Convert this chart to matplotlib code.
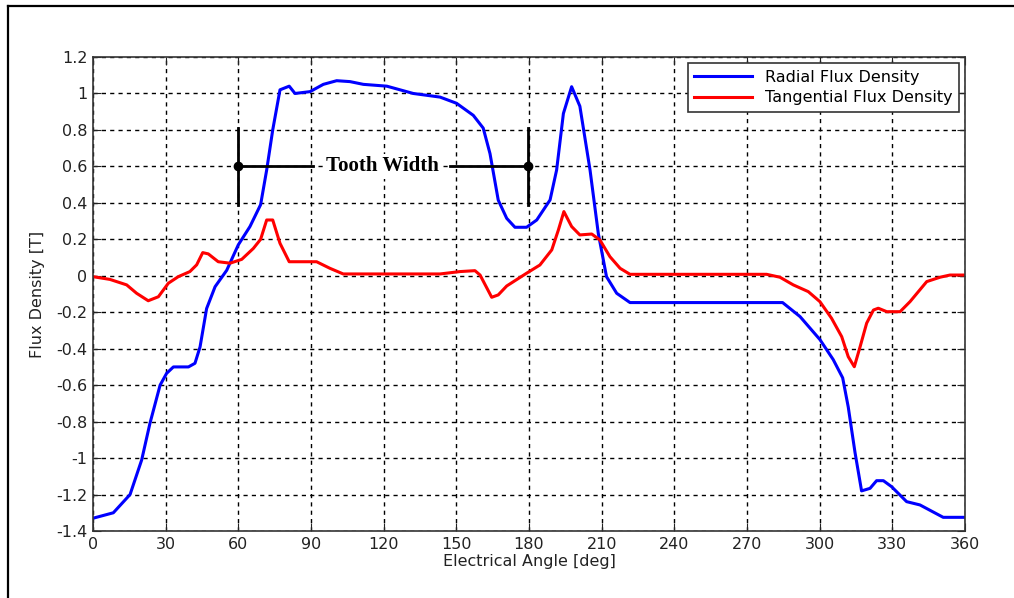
import numpy as np
import matplotlib
matplotlib.use('Agg')
import matplotlib.pyplot as plt
from matplotlib.lines import Line2D

plt.rcParams['font.family'] = 'DejaVu Sans'
plt.rcParams['axes.unicode_minus'] = False

# radial flux density (blue)
rad_deg = [0, 8.4, 15.3, 20.1, 23.5, 27.7, 30.4, 33.2, 39.4, 42.1, 44.2, 46.9, 50.4, 55.2, 60,
           64.8, 69.2, 71.7, 74.2, 77.2, 81, 83.4, 89.6, 95.1, 100.6, 106.1, 111.6, 121.3, 132.2,
           143.3, 150.1, 157, 161.1, 163.9, 167.3, 170.8, 174.2, 179, 183.2, 188.7, 191.4, 194.2,
           197.6, 201, 205.2, 208.6, 212, 216.2, 221.7, 284.7, 291.9, 300.1, 305.6, 309.5, 311.8,
           314.6, 317.3, 320.8, 323.5, 326.3, 329.7, 335.9, 341.4, 351, 360]
rad_val = [-1.33, -1.30, -1.20, -1.01, -0.81, -0.60, -0.535, -0.50, -0.50, -0.48, -0.39, -0.18,
           -0.06, 0.03, 0.17, 0.27, 0.39, 0.58, 0.80, 1.02, 1.04, 1.00, 1.01, 1.05, 1.07, 1.065,
           1.05, 1.04, 1.00, 0.98, 0.946, 0.88, 0.81, 0.67, 0.415, 0.315, 0.266, 0.266, 0.306,
           0.416, 0.58, 0.89, 1.037, 0.93, 0.58, 0.233, -0.005, -0.096, -0.147, -0.147, -0.224,
           -0.35, -0.46, -0.56, -0.72, -0.97, -1.18, -1.166, -1.124, -1.124, -1.157, -1.239,
           -1.257, -1.325, -1.325]

# tangential flux density (red)
tan_deg = [0, 7, 13.9, 18, 22.8, 27, 31.1, 35.2, 40, 42.8, 45.3, 47.6, 51.7, 56.6, 61.4, 66.2,
           69.2, 71.7, 74.2, 77.2, 81, 92.3, 97.8, 103.3, 143.3, 151.5, 157.7, 159.8, 164.6,
           167.3, 170.8, 179, 184.5, 189.4, 192.1, 194.4, 197.6, 201, 205.9, 209.3, 213.4, 217.6,
           221.7, 278.1, 283.6, 289.1, 295.3, 300.1, 304.9, 309.1, 311.8, 314.3, 316.7, 319.4,
           322.2, 324.2, 327.7, 333.2, 337.3, 344.2, 349.7, 353.8, 360]
tan_val = [-0.005, -0.02, -0.05, -0.096, -0.137, -0.115, -0.041, -0.005, 0.023, 0.06, 0.127,
           0.12, 0.077, 0.069, 0.09, 0.15, 0.20, 0.306, 0.306, 0.178, 0.077, 0.077, 0.041, 0.01,
           0.01, 0.023, 0.028, 0.004, -0.118, -0.105, -0.056, 0.014, 0.059, 0.142, 0.25, 0.352,
           0.27, 0.224, 0.229, 0.196, 0.105, 0.041, 0.008, 0.008, -0.008, -0.05, -0.087, -0.142,
           -0.233, -0.334, -0.444, -0.499, -0.389, -0.26, -0.188, -0.178, -0.197, -0.197, -0.142,
           -0.032, -0.008, 0.004, 0.004]

x_ticks = list(range(0, 361, 30))
y_ticks = [1.2, 1, 0.8, 0.6, 0.4, 0.2, 0, -0.2, -0.4, -0.6, -0.8, -1, -1.2, -1.4]
tooth_start, tooth_end = 60, 179.5

fig = plt.figure(figsize=(10.14, 5.98), dpi=100)
ax = fig.add_axes([93/1014, 1-531/598, 872/1014, 474/598])

ax.plot(rad_deg, rad_val, color='blue', lw=2.2, label='Radial Flux Density')
ax.plot(tan_deg, tan_val, color='red', lw=2.2, label='Tangential Flux Density')

# tooth width marker
for xv in (tooth_start, tooth_end):
    ax.plot([xv, xv], [0.39, 0.81], color='black', lw=2, zorder=4)
ax.plot([tooth_start, 91], [0.6, 0.6], color='black', lw=2, zorder=4)
ax.plot([147.5, tooth_end], [0.6, 0.6], color='black', lw=2, zorder=4)
ax.plot([tooth_start, tooth_end], [0.6, 0.6], 'o', color='black', ms=6, zorder=5)
ax.text(119.5, 0.6, 'Tooth Width', family='Liberation Serif', fontweight='bold',
        fontsize=15, ha='center', va='center', zorder=5,
        bbox=dict(facecolor='white', edgecolor='none', pad=2))

ax.set_xlim(0, 360)
ax.set_ylim(-1.4, 1.2)
ax.set_xticks(x_ticks)
ax.set_yticks(y_ticks)
ax.set_yticklabels(['%g' % v for v in y_ticks])
ax.tick_params(direction='in', top=True, right=True, length=6, labelsize=11.5,
               color='#222222', labelcolor='#222222', pad=4)
ax.grid(True, color='black', linestyle=(0, (3, 3)), lw=1)
for s in ax.spines.values():
    s.set_color('#333333')
    s.set_linewidth(1.2)

ax.set_xlabel('Electrical Angle [deg]', fontsize=11.5, labelpad=2, color='#222222')
ax.set_ylabel('Flux Density [T]', fontsize=11.5, labelpad=8, color='#222222')

leg = ax.legend(loc='upper right', fontsize=11.5, handlelength=3.6, fancybox=False,
                framealpha=1, borderaxespad=0.4, labelspacing=0.35)
leg.get_frame().set_edgecolor('#333333')
leg.get_frame().set_linewidth(1.2)

# outer frame lines
fig.add_artist(Line2D([7.5/1014, 1], [1-6/598, 1-6/598], color='black', lw=1.6,
                      transform=fig.transFigure))
fig.add_artist(Line2D([7.5/1014, 7.5/1014], [0, 1-6/598], color='black', lw=1.6,
                      transform=fig.transFigure))

fig.savefig('out.png', dpi=100)
